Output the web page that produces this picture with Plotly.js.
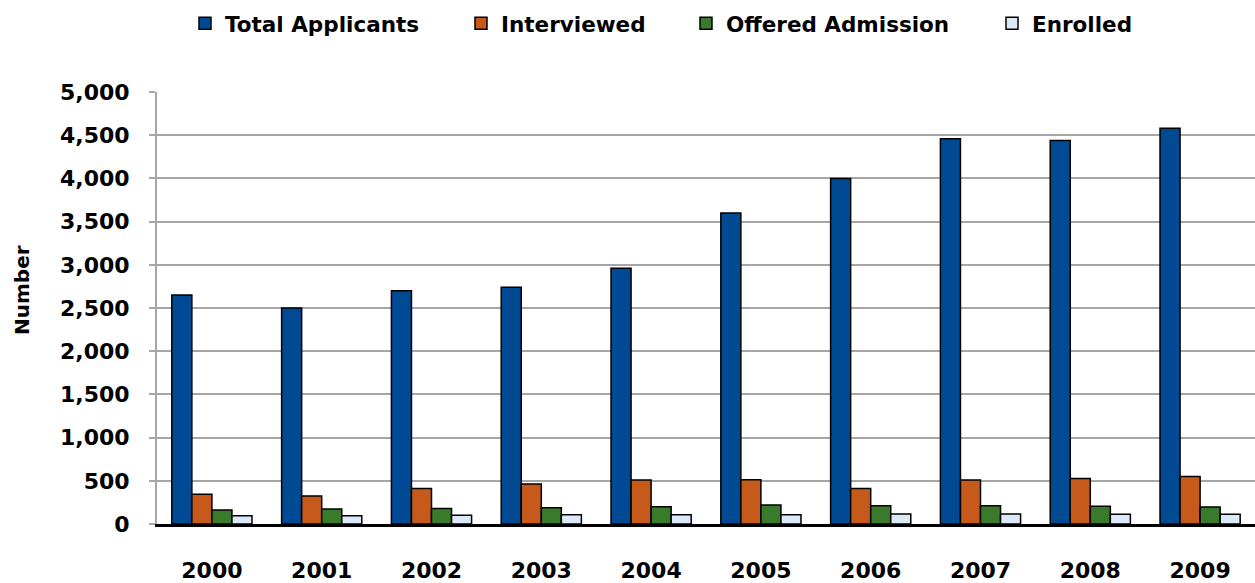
<!DOCTYPE html>
<html><head><meta charset="utf-8">
<script src="https://cdn.plot.ly/plotly-3.0.1.min.js"></script>
<style>body{margin:0;padding:0;background:#fff}#chart{width:1255px;height:583px}</style>
</head><body><div id="chart"></div>
<script>
const years = ["2000","2001","2002","2003","2004","2005","2006","2007","2008","2009"];
const totalApplicants = [2650, 2500, 2700, 2740, 2960, 3600, 4000, 4460, 4440, 4580];
const interviewed = [345, 325, 412, 463, 509, 513, 412, 509, 527, 550];
const offeredAdmission = [162, 174, 178, 189, 200, 220, 212, 212, 204, 197];
const enrolled = [95, 95, 102, 106, 106, 106, 116, 116, 112, 112];
const seriesNames = ["Total Applicants", "Interviewed", "Offered Admission", "Enrolled"];
const colors = ["#004A93", "#C65A1A", "#3A7B2B", "#DCE9F7"];
const seriesData = [totalApplicants, interviewed, offeredAdmission, enrolled];

const font = "'DejaVu Sans', sans-serif";
const legendIds = ["legend", "legend2", "legend3", "legend4"];
const legendX = [185, 461, 686, 992];
const traces = seriesData.map((vals, i) => ({
  type: "bar", x: years, y: vals, name: seriesNames[i], legend: legendIds[i],
  marker: {color: colors[i], line: {color: "#000", width: 1.5}},
  hoverinfo: "x+y+name"
}));

const layout = {
  width: 1255, height: 583,
  margin: {l: 157, r: 0, t: 92, b: 59},
  paper_bgcolor: "#fff", plot_bgcolor: "#fff",
  barmode: "group", bargap: 0.27, bargroupgap: 0,
  font: {family: font, color: "#000"},
  showlegend: true,
  xaxis: {type: "category", showgrid: false, showline: true, linecolor: "#000", linewidth: 2.5,
    ticks: "", ticklabelstandoff: 25, tickfont: {size: 22, family: font, weight: "bold"}},
  yaxis: {range: [0, 5000], dtick: 500, tickformat: ",", showgrid: true, gridcolor: "#A6A6A6", gridwidth: 2,
    showline: true, linecolor: "#A6A6A6", linewidth: 2, ticks: "outside", ticklen: 6, tickcolor: "#A6A6A6", tickwidth: 2,
    ticklabelstandoff: 15, zeroline: false,
    tickfont: {size: 22, family: font, weight: "bold"}},
  annotations: [{text: "Number", xref: "paper", yref: "paper", x: -(157 - 22) / 1098, y: (524 - 290) / 432,
    xanchor: "center", yanchor: "middle", textangle: -90, showarrow: false,
    font: {size: 20, family: font, weight: "bold", color: "#000"}}]
};
legendIds.forEach((id, i) => {
  layout[id] = {orientation: "h", xref: "container", yref: "container", x: legendX[i] / 1255, y: 0.96,
    xanchor: "left", yanchor: "middle", font: {size: 21.5, family: font, weight: "bold"}, itemwidth: 30,
    bgcolor: "rgba(0,0,0,0)"};
});
Plotly.newPlot("chart", traces, layout, {displayModeBar: false, staticPlot: true});
</script></body></html>
